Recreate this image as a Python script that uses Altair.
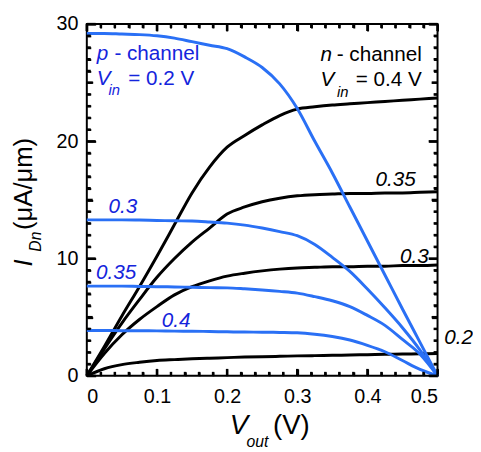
import altair as alt
import pandas as pd

# ---- data ----
V_OUT = [0, 0.025, 0.05, 0.075, 0.1, 0.125, 0.15, 0.175, 0.2, 0.225, 0.25,
         0.275, 0.3, 0.325, 0.35, 0.375, 0.4, 0.425, 0.45, 0.475, 0.5]

# n-channel (black)
N_040 = [0, 2.5, 5.1, 7.6, 10.2, 12.9, 15.6, 17.8, 19.5, 20.5, 21.4,
         22.2, 22.75, 22.95, 23.1, 23.2, 23.3, 23.4, 23.5, 23.6, 23.7]
N_035 = [0, 2.3, 4.5, 6.5, 8.4, 10.0, 11.4, 12.6, 13.8, 14.4, 14.85,
         15.15, 15.35, 15.45, 15.5, 15.55, 15.55, 15.6, 15.6, 15.65, 15.7]
N_030 = [0, 1.9, 3.5, 4.8, 5.9, 6.9, 7.6, 8.1, 8.5, 8.75, 8.95,
         9.1, 9.2, 9.25, 9.3, 9.3, 9.35, 9.35, 9.4, 9.4, 9.45]
N_020 = [0, 0.6, 0.95, 1.15, 1.3, 1.38, 1.45, 1.5, 1.55, 1.6, 1.63,
         1.66, 1.7, 1.72, 1.75, 1.77, 1.8, 1.83, 1.85, 1.88, 1.9]

# p-channel (blue)
P_020 = [29.2, 29.2, 29.15, 29.1, 29.0, 28.8, 28.5, 28.2, 27.9, 27.2, 26.3,
         24.9, 22.8, 20.0, 17.3, 14.4, 11.5, 8.6, 5.7, 2.85, 0]
P_030 = [13.3, 13.3, 13.3, 13.28, 13.25, 13.22, 13.2, 13.12, 13.02, 12.85, 12.6,
         12.3, 11.95, 11.2, 10.1, 8.9, 7.4, 5.8, 4.1, 2.2, 0]
P_035 = [7.65, 7.65, 7.65, 7.62, 7.6, 7.58, 7.55, 7.52, 7.5, 7.42, 7.32,
         7.2, 7.05, 6.75, 6.4, 5.9, 5.15, 4.3, 3.1, 1.85, 0]
P_040 = [3.87, 3.86, 3.85, 3.84, 3.83, 3.81, 3.8, 3.78, 3.75, 3.73, 3.72,
         3.7, 3.67, 3.55, 3.35, 3.05, 2.6, 2.05, 1.3, 0.55, 0]

CURVES = [("n", "n0.40", N_040), ("n", "n0.35", N_035), ("n", "n0.30", N_030),
          ("n", "n0.20", N_020), ("p", "p0.20", P_020), ("p", "p0.30", P_030),
          ("p", "p0.35", P_035), ("p", "p0.40", P_040)]

X_RANGE = [0, 0.5]
Y_RANGE = [0, 30]
X_TICKS = [0, 0.1, 0.2, 0.3, 0.4, 0.5]
X_MINOR = [round(k * 0.02, 2) for k in range(26) if k % 5 != 0]
Y_TICKS = [0, 10, 20, 30]
Y_MID = [5, 15, 25]
Y_MINOR = [k for k in range(31) if k % 5 != 0]

# annotation texts and their anchor positions in data units
BLUE_IT_T = ["0.3", "0.35", "0.4", "p", "V"]
BLUE_IT_V = [0.031, 0.013, 0.107, 0.014, 0.014]
BLUE_IT_I = [13.87, 8.24, 4.20, 26.97, 24.79]
BLUE_SUB_T = ["in"]
BLUE_SUB_V = [0.031]
BLUE_SUB_I = [23.95]
BLUE_RM_T = ["- channel", "= 0.2 V"]
BLUE_RM_V = [0.0393, 0.059]
BLUE_RM_I = [26.97, 24.79]

BLK_ITR_T = ["0.35", "0.3", "0.2"]
BLK_ITR_V = [0.469, 0.4874, 0.5506]
BLK_ITR_I = [16.22, 9.66, 2.69]
BLK_IT_T = ["n", "V"]
BLK_IT_V = [0.333, 0.333]
BLK_IT_I = [26.89, 24.71]
BLK_SUB_T = ["in"]
BLK_SUB_V = [0.3567]
BLK_SUB_I = [23.78]
BLK_RM_T = ["- channel", "= 0.4 V"]
BLK_RM_V = [0.4775, 0.4775]
BLK_RM_I = [26.89, 24.71]

X_TITLE = ["V", "out", "(V)"]
Y_TITLE = ["I", "Dn", "(\u03bcA/\u03bcm)"]

# ---- chart ----
W, H = 356, 357
FONT = "Liberation Sans"
LINE_BLUE = "#2a70f5"
TEXT_BLUE = "#1424dc"

xs = alt.Scale(domain=X_RANGE, nice=False, zero=False)
ys = alt.Scale(domain=Y_RANGE, nice=False, zero=False)

AX_X = alt.Axis(values=X_TICKS, ticks=False, domain=False, grid=False, title=None,
                orient="bottom",
                labelFont=FONT, labelFontSize=20, labelColor="black", labelPadding=11,
                labelExpr="datum.value == 0 ? '0' : format(datum.value, '.1f')")
AX_Y = alt.Axis(values=Y_TICKS, ticks=False, domain=False, grid=False, title=None,
                orient="left",
                labelFont=FONT, labelFontSize=20, labelColor="black", labelPadding=9,
                format="d")


def tick_axis(orient, offset, values, size):
    # an axis that only draws ticks; placed on the opposite edge so ticks point inward
    return alt.Axis(orient=orient, offset=offset, values=values, tickSize=size,
                    tickWidth=2, tickColor="black", labels=False, domain=False,
                    grid=False, title=None)


rows = []
for kind, name, vals in CURVES:
    for v, i in zip(V_OUT, vals):
        rows.append({"v": v, "i": i, "curve": name, "kind": kind})
df = pd.DataFrame(rows)

lines = alt.Chart(df).mark_line(strokeWidth=3, interpolate="monotone").encode(
    x=alt.X("v:Q", scale=xs, axis=AX_X),
    y=alt.Y("i:Q", scale=ys, axis=AX_Y),
    color=alt.Color("kind:N", scale=alt.Scale(domain=["n", "p"], range=["black", LINE_BLUE]),
                    legend=None),
    detail="curve:N",
    order="v:Q",
)

# inward ticks (a): tick-only axes shifted onto the opposite edge
X_TICK_AXES = [
    tick_axis("top", -H, X_TICKS, 7), tick_axis("top", -H, X_MINOR, 4),
    tick_axis("bottom", -H, X_TICKS, 7), tick_axis("bottom", -H, X_MINOR, 4),
]
Y_TICK_AXES = [
    tick_axis("right", -W, Y_TICKS, 9), tick_axis("right", -W, Y_MID, 6),
    tick_axis("right", -W, Y_MINOR, 4), tick_axis("left", -W, Y_TICKS, 9),
    tick_axis("left", -W, Y_MID, 6), tick_axis("left", -W, Y_MINOR, 4),
]

tick_layers = []
for k in range(max(len(X_TICK_AXES), len(Y_TICK_AXES))):
    enc = {}
    if k < len(X_TICK_AXES):
        enc["x"] = alt.X("v:Q", scale=xs, axis=X_TICK_AXES[k])
    else:
        enc["x"] = alt.X("v:Q", scale=xs, axis=None)
    if k < len(Y_TICK_AXES):
        enc["y"] = alt.Y("i:Q", scale=ys, axis=Y_TICK_AXES[k])
    else:
        enc["y"] = alt.Y("i:Q", scale=ys, axis=None)
    tick_layers.append(alt.Chart(df).mark_point(opacity=0, size=1).encode(**enc))

# inward ticks (b): short segments along the frame, length converted from px
PX_X = (X_RANGE[1] - X_RANGE[0]) / W
PX_Y = (Y_RANGE[1] - Y_RANGE[0]) / H
tick_rows = []


def add_xticks(vals, length, tag):
    dy = length * PX_Y
    for k, v in enumerate(vals):
        for side, y0, y1 in [("b", Y_RANGE[0], Y_RANGE[0] + dy),
                             ("t", Y_RANGE[1], Y_RANGE[1] - dy)]:
            tid = f"x{tag}{side}{k}"
            tick_rows.append({"id": tid, "p": 0, "tx": v, "ty": y0})
            tick_rows.append({"id": tid, "p": 1, "tx": v, "ty": y1})


def add_yticks(vals, length, tag):
    dx = length * PX_X
    for k, v in enumerate(vals):
        for side, x0, x1 in [("l", X_RANGE[0], X_RANGE[0] + dx),
                             ("r", X_RANGE[1], X_RANGE[1] - dx)]:
            tid = f"y{tag}{side}{k}"
            tick_rows.append({"id": tid, "p": 0, "tx": x0, "ty": v})
            tick_rows.append({"id": tid, "p": 1, "tx": x1, "ty": v})


add_xticks(X_TICKS, 7, "M")
add_xticks(X_MINOR, 4, "m")
add_yticks(Y_TICKS, 9, "M")
add_yticks(Y_MID, 6, "d")
add_yticks(Y_MINOR, 4, "m")
ticks_df = pd.DataFrame(tick_rows)

tick_segs = alt.Chart(ticks_df).mark_line(color="black", strokeWidth=2.5, strokeCap="butt").encode(
    x=alt.X("tx:Q", scale=xs, axis=None),
    y=alt.Y("ty:Q", scale=ys, axis=None),
    detail="id:N",
    order="p:Q",
)


def texts(t, v, i, color, size, style, align="left"):
    d = pd.DataFrame({"t": t, "v": v, "i": i})
    return alt.Chart(d).mark_text(
        align=align, baseline="alphabetic", font=FONT, fontSize=size,
        fontStyle=style, color=color).encode(
        x=alt.X("v:Q", scale=xs, axis=None), y=alt.Y("i:Q", scale=ys, axis=None),
        text="t:N")


def title_piece(txt, px, py, size, style, angle=0):
    d = pd.DataFrame({"t": [txt]})
    kw = dict(align="left", baseline="alphabetic", font=FONT, fontSize=size,
              fontStyle=style, color="black")
    if angle:
        kw["angle"] = angle
    return alt.Chart(d).mark_text(**kw).encode(
        x=alt.value(px), y=alt.value(py), text="t:N")


layers = [lines] + tick_layers + [
    texts(BLUE_IT_T, BLUE_IT_V, BLUE_IT_I, TEXT_BLUE, 21, "italic"),
    texts(BLUE_SUB_T, BLUE_SUB_V, BLUE_SUB_I, TEXT_BLUE, 15, "italic"),
    texts(BLUE_RM_T, BLUE_RM_V, BLUE_RM_I, TEXT_BLUE, 21, "normal"),
    texts(BLK_ITR_T, BLK_ITR_V, BLK_ITR_I, "black", 21, "italic", "right"),
    texts(BLK_IT_T, BLK_IT_V, BLK_IT_I, "black", 21, "italic"),
    texts(BLK_SUB_T, BLK_SUB_V, BLK_SUB_I, "black", 15, "italic"),
    texts(BLK_RM_T, BLK_RM_V, BLK_RM_I, "black", 21, "normal", "right"),
    # axis titles with subscripts
    title_piece(X_TITLE[0], 145, 416, 28, "italic"),
    title_piece(X_TITLE[1], 162, 429, 16, "italic"),
    title_piece(X_TITLE[2], 189, 416, 28, "normal"),
    title_piece(Y_TITLE[0], -56, 246, 26, "italic", 270),
    title_piece(Y_TITLE[1], -47, 231, 16, "italic", 270),
    title_piece(Y_TITLE[2], -56, 209, 26, "normal", 270),
    tick_segs,
]

chart = alt.layer(*layers).resolve_axis(x="independent", y="independent").properties(
    width=W, height=H,
    autosize=alt.AutoSizeParams(type="none"),
    padding={"left": 80, "top": 13, "right": 36, "bottom": 72},
    background="white",
).configure_view(stroke="black", strokeWidth=2)

chart.save("out.html", embed_options={"renderer": "svg", "actions": False})
